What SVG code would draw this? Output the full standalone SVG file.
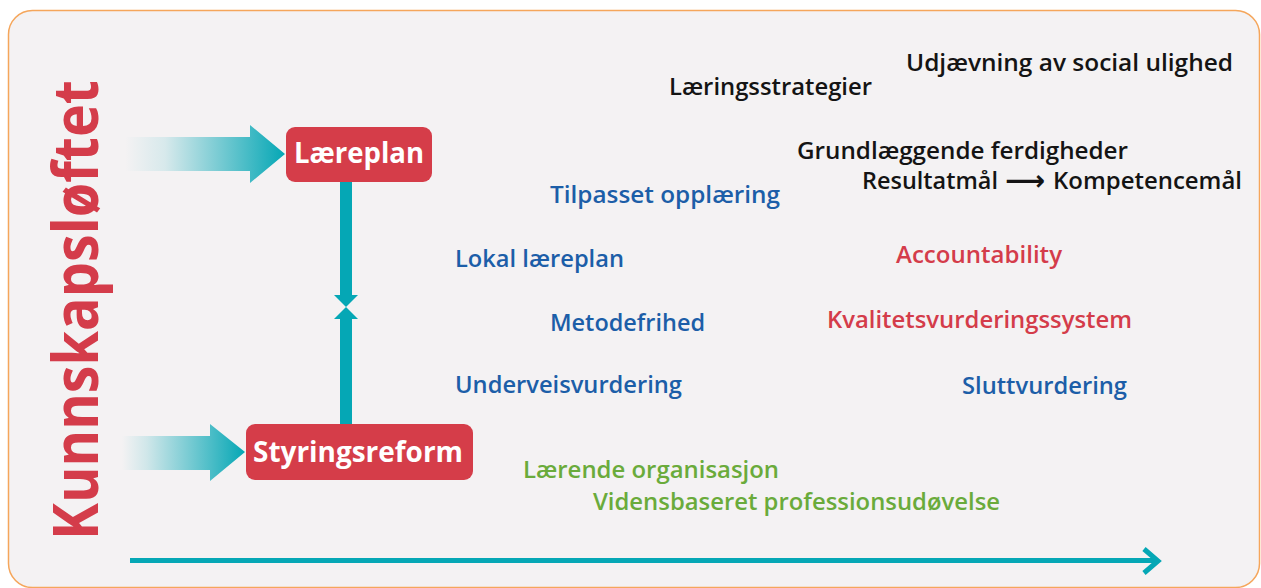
<svg xmlns="http://www.w3.org/2000/svg" width="1261" height="588" viewBox="0 0 1261 588">
  <style>
    .lbl { font-family: "Open Sans", "Noto Sans", "DejaVu Sans", sans-serif; font-weight: 600; font-size: 24px; }
    .blk { fill: #141414; }
    .blue { fill: #1c5ea8; }
    .red { fill: #d43c4a; }
    .green { fill: #6aab3b; }
    .box { fill: #d53d49; }
    .boxtxt { font-family: "Open Sans", "Noto Sans", "DejaVu Sans", sans-serif; font-weight: 700; font-size: 29px; fill: #ffffff; text-anchor: middle; }
    .teal { fill: #05a7b5; }
  </style>
  <defs>
    <linearGradient id="fadeTop" gradientUnits="userSpaceOnUse" x1="125" y1="0" x2="285" y2="0">
      <stop offset="0" stop-color="#05a7b5" stop-opacity="0"/>
      <stop offset="0.25" stop-color="#05a7b5" stop-opacity="0.12"/>
      <stop offset="1" stop-color="#05a7b5" stop-opacity="1"/>
    </linearGradient>
    <linearGradient id="fadeBottom" gradientUnits="userSpaceOnUse" x1="122" y1="0" x2="245" y2="0">
      <stop offset="0" stop-color="#05a7b5" stop-opacity="0"/>
      <stop offset="0.2" stop-color="#05a7b5" stop-opacity="0.15"/>
      <stop offset="1" stop-color="#05a7b5" stop-opacity="1"/>
    </linearGradient>
  </defs>

  <rect x="0" y="0" width="1261" height="588" fill="#ffffff"/>
  <!-- panel -->
  <rect x="8.5" y="10.5" width="1251" height="577" rx="24" ry="24" fill="#f4f2f3" stroke="#f5a65b" stroke-width="1.5"/>

  <!-- vertical title -->
  <text transform="translate(98,310) rotate(-90)" text-anchor="middle" textLength="460" lengthAdjust="spacingAndGlyphs"
        font-family="'Open Sans', 'Noto Sans', sans-serif" font-weight="700" font-size="63" fill="#d43c4a">Kunnskapsløftet</text>

  <!-- connectors -->
  <g id="connectors">
    <!-- incoming fade arrow to Læreplan -->
    <path d="M125,137 H250 V125 L285,154 L250,183 V171 H125 Z" fill="url(#fadeTop)"/>
    <!-- incoming fade arrow to Styringsreform -->
    <path d="M122,436 H210 V424 L245,452 L210,481 V470 H122 Z" fill="url(#fadeBottom)"/>
    <!-- Læreplan down to the meeting point -->
    <rect class="teal" x="340" y="182" width="12" height="114"/>
    <polygon class="teal" points="334,295 358,295 346,307"/>
    <!-- Styringsreform up to the meeting point -->
    <rect class="teal" x="340" y="318" width="12" height="107"/>
    <polygon class="teal" points="334,319 358,319 346,307"/>
    <!-- time axis -->
    <line x1="130" y1="560.5" x2="1157" y2="560.5" stroke="#05a7b5" stroke-width="5"/>
    <polyline points="1144,549 1158,561 1144,573" fill="none" stroke="#05a7b5" stroke-width="5"/>
  </g>

  <g id="laereplan">
    <rect class="box" x="286" y="127" width="146" height="55" rx="9"/>
    <text class="boxtxt" x="359" y="163" textLength="130" lengthAdjust="spacingAndGlyphs">Læreplan</text>
  </g>

  <g id="styringsreform">
    <rect class="box" x="246" y="424" width="227" height="56" rx="9"/>
    <text class="boxtxt" x="358" y="462" textLength="210" lengthAdjust="spacingAndGlyphs">Styringsreform</text>
  </g>

  <g id="udjaevning"><text class="lbl blk" x="906" y="71" textLength="327" lengthAdjust="spacingAndGlyphs">Udjævning av social ulighed</text></g>
  <g id="laeringsstrategier"><text class="lbl blk" x="669" y="95" textLength="203" lengthAdjust="spacingAndGlyphs">Læringsstrategier</text></g>
  <g id="grundlaeggende"><text class="lbl blk" x="797" y="159" textLength="331" lengthAdjust="spacingAndGlyphs">Grundlæggende ferdigheder</text></g>
  <g id="resultatmaal">
    <text class="lbl blk" x="862" y="189" textLength="136" lengthAdjust="spacingAndGlyphs">Resultatmål</text>
    <text class="blk" x="1005" y="190" textLength="40" lengthAdjust="spacingAndGlyphs" font-family="'DejaVu Sans', sans-serif" font-weight="700" font-size="28">⟶</text>
    <text class="lbl blk" x="1053" y="189" textLength="189" lengthAdjust="spacingAndGlyphs">Kompetencemål</text>
  </g>

  <g id="tilpasset"><text class="lbl blue" x="550" y="203" textLength="230" lengthAdjust="spacingAndGlyphs">Tilpasset opplæring</text></g>
  <g id="lokal"><text class="lbl blue" x="455" y="267" textLength="169" lengthAdjust="spacingAndGlyphs">Lokal læreplan</text></g>
  <g id="metodefrihed"><text class="lbl blue" x="550" y="331" textLength="155" lengthAdjust="spacingAndGlyphs">Metodefrihed</text></g>
  <g id="underveis"><text class="lbl blue" x="455" y="393" textLength="227" lengthAdjust="spacingAndGlyphs">Underveisvurdering</text></g>
  <g id="slutt"><text class="lbl blue" x="962" y="394" textLength="165" lengthAdjust="spacingAndGlyphs">Sluttvurdering</text></g>

  <g id="accountability"><text class="lbl red" x="896" y="263" textLength="166" lengthAdjust="spacingAndGlyphs">Accountability</text></g>
  <g id="kvalitet"><text class="lbl red" x="827" y="328" textLength="305" lengthAdjust="spacingAndGlyphs">Kvalitetsvurderingssystem</text></g>

  <g id="laerende"><text class="lbl green" x="523" y="478" textLength="256" lengthAdjust="spacingAndGlyphs">Lærende organisasjon</text></g>
  <g id="vidensbaseret"><text class="lbl green" x="593" y="510" textLength="407" lengthAdjust="spacingAndGlyphs">Vidensbaseret professionsudøvelse</text></g>
</svg>
